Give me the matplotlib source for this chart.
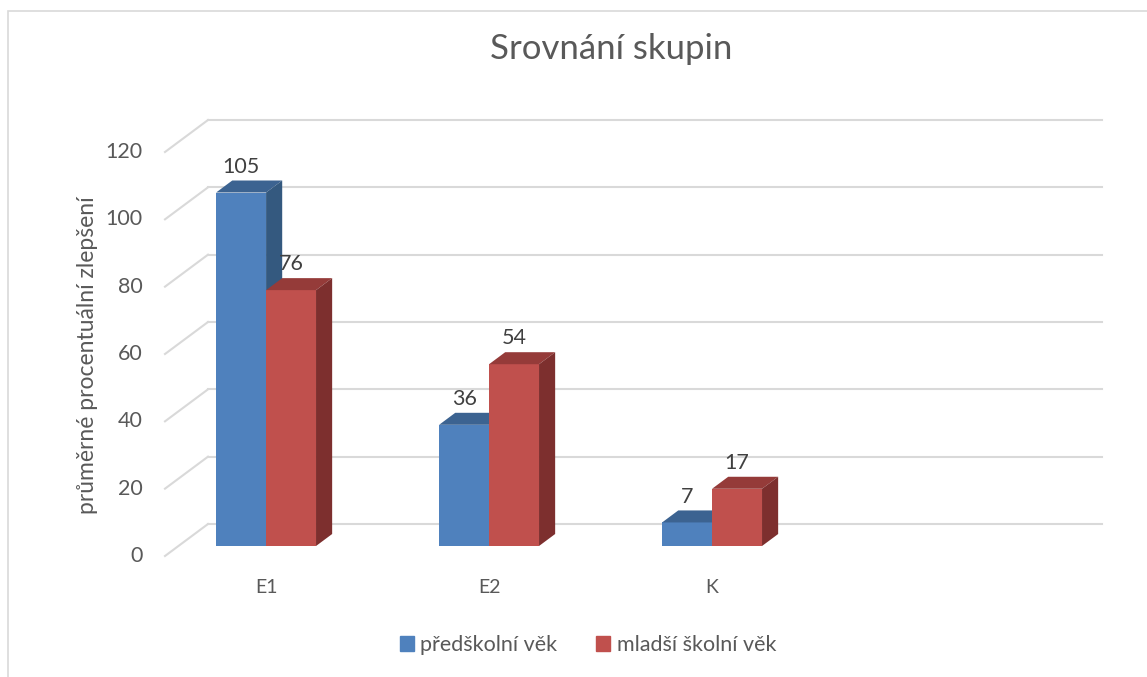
import matplotlib
matplotlib.use("Agg")
import matplotlib.pyplot as plt
from matplotlib.patches import Patch, Rectangle

categories = ["E1", "E2", "K"]
series_names = ["předškolní věk", "mladší školní věk"]
preschool = [105, 36, 7]
school = [76, 54, 17]
y_ticks = [0, 20, 40, 60, 80, 100, 120]

plt.rcParams['font.family'] = ['Lato', 'DejaVu Sans']
text_col = '#595959'
grid_col = '#D9D9D9'

# front, top, side colours for each series
faces = [('#4F81BD', '#3C6391', '#34597F'),
         ('#C0504D', '#953B39', '#7D2F2E')]

fig = plt.figure(figsize=(11.47, 6.77), dpi=100)
# axes = front plane of the 3d box
ax = fig.add_axes([165/1147, (677-556)/677, (1059-165)/1147, 404/677])
xmin, xmax = -0.393, 3.616
ax.set_xlim(xmin, xmax)
ax.set_ylim(0, 120)
ax.axis('off')

# oblique projection: full depth moves 43px right, 32px up
DX = 43/223
DY = 32/3.367
def proj(x, y, z):
    return x + z*DX, y + z*DY

z_front = 10/32
z_back = 22/32
width = 0.224

# back wall and side wall gridlines
for v in y_ticks:
    x0, y0 = proj(xmin, v, 1)
    x1, y1 = proj(xmax, v, 1)
    ax.plot([x0, x1], [y0, y1], color=grid_col, lw=1.5, zorder=1, clip_on=False)
    ax.plot([xmin, x0], [v, y0], color=grid_col, lw=1.5, zorder=1, clip_on=False)
    ax.annotate(str(v), (xmin, v), xytext=(-16, 0), textcoords='offset points',
                ha='right', va='center', fontsize=15.5, color=text_col,
                annotation_clip=False)

z = 2
for s, vals in enumerate([preschool, school]):
    front, top, side = faces[s]
    for i, h in enumerate(vals):
        left = i - width + s*width
        right = left + width
        # front face
        fx, fy = proj(left, 0, z_front)
        ax.bar(fx, h, width=width, bottom=fy, align='edge', color=front,
               zorder=z, clip_on=False)
        # top face
        pts = [proj(left, h, z_front), proj(right, h, z_front),
               proj(right, h, z_back), proj(left, h, z_back)]
        ax.fill([p[0] for p in pts], [p[1] for p in pts], color=top, zorder=z,
                lw=0, clip_on=False)
        # right side face
        pts = [proj(right, 0, z_front), proj(right, 0, z_back),
               proj(right, h, z_back), proj(right, h, z_front)]
        ax.fill([p[0] for p in pts], [p[1] for p in pts], color=side, zorder=z,
                lw=0, clip_on=False)
        z += 1
        # value label
        lx, _ = proj(left + width/2, h, z_front)
        _, ly = proj(left, h, z_back)
        ax.annotate(str(h), (lx, ly), xytext=(0, 10), textcoords='offset points',
                    ha='center', va='center', fontsize=15.5, color='#404040',
                    zorder=20, annotation_clip=False)

for i, c in enumerate(categories):
    cx, cy = proj(i, 0, z_front)
    ax.annotate(c, (cx, cy), xytext=(0, -30), textcoords='offset points',
                ha='center', va='center', fontsize=14, color=text_col,
                annotation_clip=False)

fig.text(611/1147, 1-49/677, "Srovnání skupin", ha='center', va='center',
         fontsize=25, color=text_col)
fig.text(88/1147, 1-355/677, "průměrné procentuální zlepšení", rotation=90,
         ha='center', va='center', fontsize=16.5, color=text_col)

handles = [Patch(color=faces[0][0]), Patch(color=faces[1][0])]
fig.legend(handles, series_names, loc='center', bbox_to_anchor=(588/1147, 1-645/677),
           ncol=2, frameon=False, fontsize=15.5, handlelength=0.65, handleheight=0.65,
           handletextpad=0.3, columnspacing=1.8, labelcolor=text_col)

# chart border (left and top visible)
fig.patches.append(Rectangle((8/1147, -0.1), 1.2, 1.1 - 11/677,
                             transform=fig.transFigure, fill=False,
                             edgecolor=grid_col, lw=1.2))

fig.savefig("out.png", dpi=100)
